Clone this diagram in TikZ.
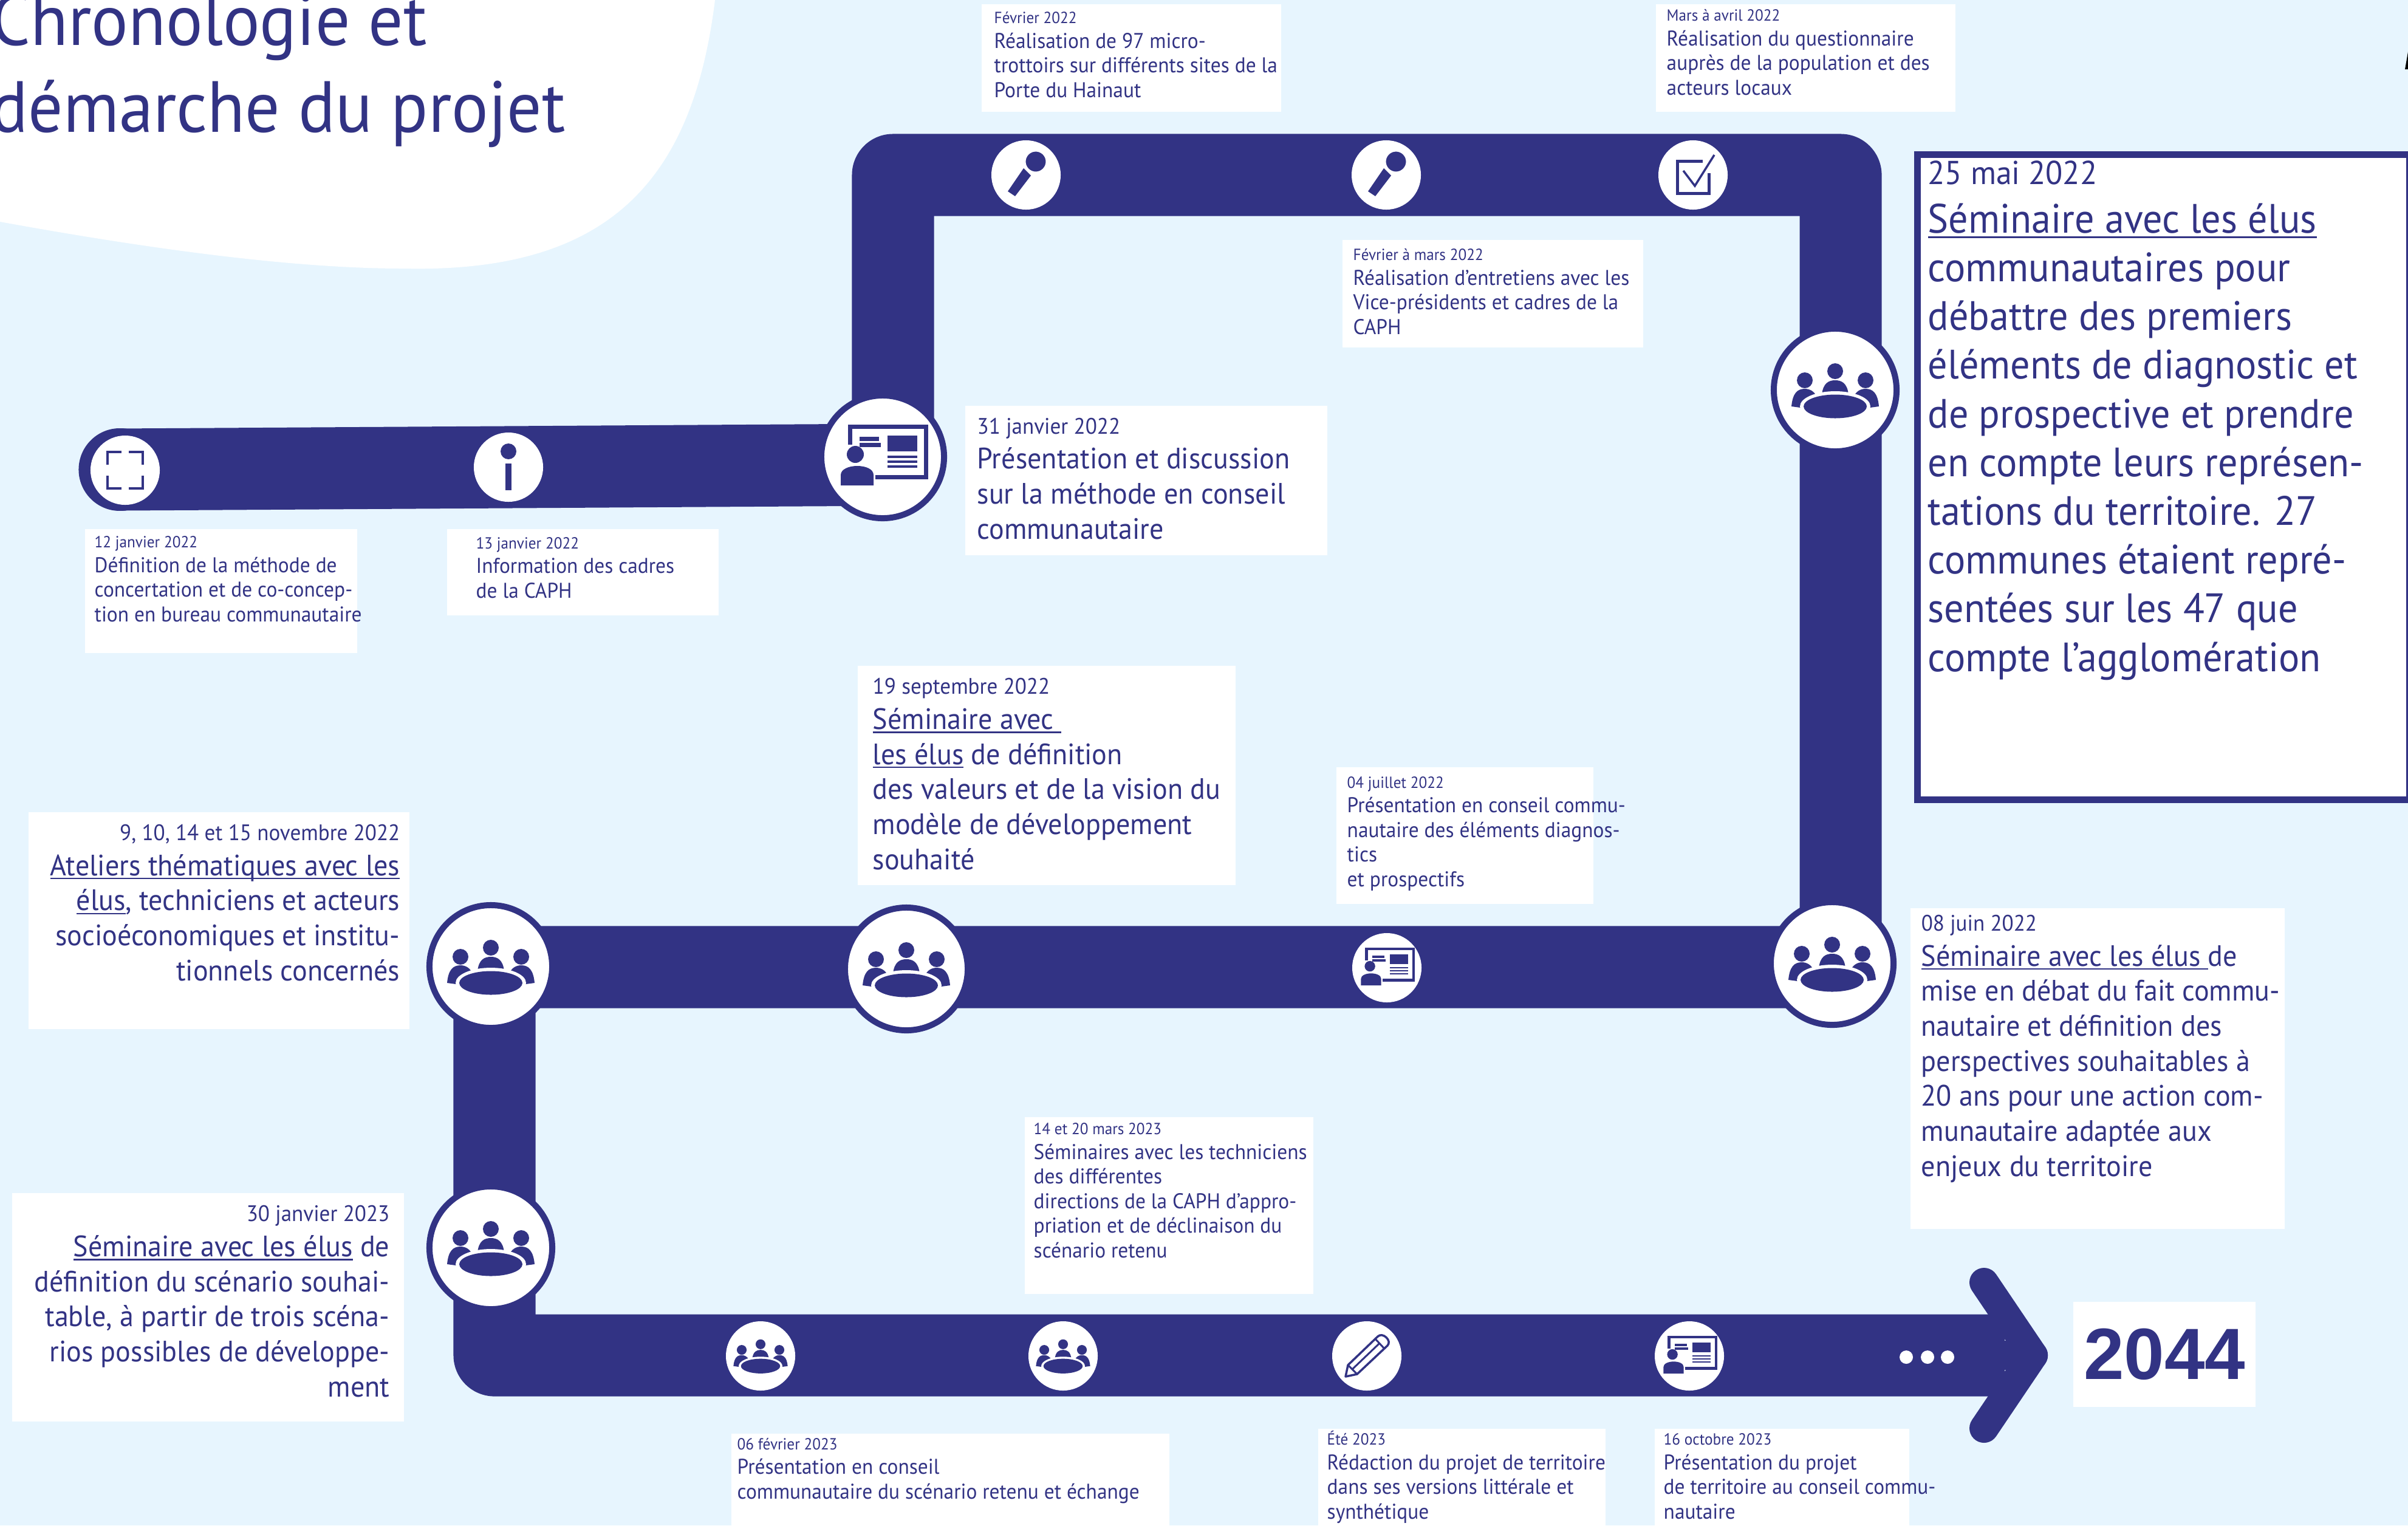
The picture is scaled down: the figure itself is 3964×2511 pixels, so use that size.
\documentclass[tikz,border=0pt]{standalone}
\usepackage{fontspec}
\setmainfont[FakeStretch=0.95]{PT Sans}
\newfontfamily\yearfont{Liberation Sans}
\usetikzlibrary{backgrounds}
\definecolor{navy}{HTML}{323384}
\definecolor{paleblue}{HTML}{E7F5FE}
\newcommand{\souligne}[1]{\setbox0\hbox{#1}\rlap{\rule[-.13em]{\wd0}{.05em}}\box0\relax}
\newcommand{\smalldate}[1]{{\fontsize{7.55}{11.5}\selectfont #1}}
\newcommand{\meddate}[1]{{\fontsize{10.5}{16.4}\selectfont #1}}
\newcommand{\largedate}[1]{{\fontsize{15.5}{22.8}\selectfont #1}}
\tikzset{
  band/.style={navy,line width=1.35cm,line join=round},
  headline/.style={navy,line width=.48cm,line cap=round,line join=round},
  spot/.style={circle,fill=white,minimum size=1.14cm,inner sep=0pt},
  hub/.style={circle,fill=white,draw=navy,line width=.1cm,minimum size=2.02cm,inner sep=0pt},
  whitebox/.style={rectangle,fill=white,inner sep=0pt,anchor=north west},
  smalltxt/.style={text=navy,inner sep=0pt,anchor=base west,align=left,font=\fontsize{10}{11.5}\selectfont},
  medtxt/.style={text=navy,inner sep=0pt,anchor=base west,align=left,font=\fontsize{13.8}{16.4}\selectfont},
  largetxt/.style={text=navy,inner sep=0pt,anchor=base west,align=left,font=\fontsize{19.2}{22.8}\selectfont},
  titletxt/.style={text=navy,inner sep=0pt,anchor=base west,align=left,font=\fontsize{33.9}{40.6}\selectfont},
  groupicon/.pic={
    \fill[navy] (0,-31) circle [radius=13];
    \fill[navy] (-50,-16) circle [radius=13];
    \fill[navy] (50,-16) circle [radius=13];
    \fill[navy] (-22,8) .. controls (-20,-12) and (-10,-16) .. (0,-16) .. controls (10,-16) and (20,-12) .. (22,8) -- cycle;
    \fill[navy] (-72,27) .. controls (-70,5) and (-62,-2) .. (-50,-2) .. controls (-42,-2) and (-34,2) .. (-30,12) -- (-50,30) -- cycle;
    \fill[navy] (72,27) .. controls (70,5) and (62,-2) .. (50,-2) .. controls (42,-2) and (34,2) .. (30,12) -- (50,30) -- cycle;
    \fill[white] (0,27) ellipse [x radius=58,y radius=25];
    \fill[navy] (0,27) ellipse [x radius=52,y radius=19.5];
  },
  presicon/.pic={
    \draw[navy] (-54,-20) -- (-54,-50) -- (71,-50) -- (71,33) -- (-12,33);
    \fill[navy] (8,-35) rectangle (57,-9);
    \fill[navy] (8,-2) rectangle (57,2);
    \fill[navy] (8,6) rectangle (57,10);
    \fill[navy] (8,14) rectangle (57,18);
    \fill[navy] (-38,-33) rectangle (-6,-26);
    \fill[navy] (-38,-23) rectangle (-3,-16);
    \fill[navy] (-45,-4) circle [radius=14];
    \fill[navy] (-69,47) -- (-69,30) .. controls (-69,20) and (-55,15) .. (-42,15) .. controls (-28,15) and (-15,20) .. (-15,30) -- (-15,47) -- cycle;
  },
  micicon/.pic={
    \fill[navy] (-4,-11) -- (8,1) -- (-18,35) -- (-30,27) -- cycle;
    \fill[navy,draw=white,line width=.03cm] (16,-22) circle [radius=18];
  },
  checkicon/.pic={
    \draw[navy,line width=.05cm] (16,-23) -- (-26,-23) -- (-26,30) -- (26,30) -- (26,-3);
    \draw[white,line width=.09cm] (-16,-7) -- (3,18) -- (35,-33);
    \draw[navy,line width=.035cm] (-16,-7) -- (3,18) -- (35,-33);
  },
  frameicon/.pic={
    \draw[navy,line width=.035cm] (-29,-9) -- (-29,-30) -- (-6,-30);
    \draw[navy,line width=.035cm] (6,-30) -- (29,-30) -- (29,-9);
    \draw[navy,line width=.035cm] (-29,9) -- (-29,30) -- (-6,30);
    \draw[navy,line width=.035cm] (6,30) -- (29,30) -- (29,9);
  },
  infoicon/.pic={
    \fill[navy] (0,-26) circle [radius=13];
    \fill[navy] (-5,-6) rectangle (5,38);
  },
  pencilicon/.pic={
    \draw[navy,line width=.035cm,line join=round] (-35,34) -- (-31,15) -- (18,-32) .. controls (26,-40) and (42,-25) .. (34,-17) -- (-16,30) -- cycle;
    \draw[navy,line width=.03cm] (-31,15) -- (-16,30);
    \draw[navy,line width=.03cm] (-24,22) -- (20,-20);
    \draw[navy,line width=.03cm] (14,-28) -- (28,-13);
  }
}
\begin{document}
\begin{tikzpicture}[x=.01cm,y=-.01cm]
  \useasboundingbox (0,0) rectangle (3964,2511);
  \coordinate (bandstart) at (197,773);
  \coordinate (cornerA) at (1470,765);
  \coordinate (cornerB) at (1470,288);
  \coordinate (cornerC) at (3030,288);
  \coordinate (cornerD) at (3030,1592);
  \coordinate (cornerE) at (814,1592);
  \coordinate (cornerF) at (814,2231);
  \coordinate (bandend) at (3300,2231);
  \coordinate (headtop) at (3266,2111);
  \coordinate (headtip) at (3347,2231);
  \coordinate (headbottom) at (3266,2351);
  \node[spot] (frame) at (206,774) {};
  \node[spot] (info) at (837,769) {};
  \node[hub] (methode) at (1453,752) {};
  \node[spot] (micA) at (1689,288) {};
  \node[spot] (micB) at (2282,288) {};
  \node[spot] (enquete) at (2787,288) {};
  \node[hub] (mai) at (3021,642) {};
  \node[hub] (juin) at (3016,1586) {};
  \node[spot] (juillet) at (2283,1593) {};
  \node[hub] (septembre) at (1492,1595) {};
  \node[hub] (novembre) at (808,1591) {};
  \node[hub] (janvier) at (808,2054) {};
  \node[spot] (fevrier) at (1252,2232) {};
  \node[spot] (mars) at (1750,2232) {};
  \node[spot] (ete) at (2250,2232) {};
  \node[spot] (octobre) at (2781,2232) {};
  \pic at (frame) {frameicon};
  \pic at (info) {infoicon};
  \pic[line width=.07cm] at (methode) {presicon};
  \pic at (micA) {micicon};
  \pic at (micB) {micicon};
  \pic at (enquete) {checkicon};
  \pic at (mai) {groupicon};
  \pic at (juin) {groupicon};
  \pic[scale=.62,line width=.045cm] at (juillet) {presicon};
  \pic at (septembre) {groupicon};
  \pic at (novembre) {groupicon};
  \pic at (janvier) {groupicon};
  \pic[scale=.62] at (fevrier) {groupicon};
  \pic[scale=.62] at (mars) {groupicon};
  \pic at (ete) {pencilicon};
  \pic[scale=.62,line width=.045cm] at (octobre) {presicon};
  \node[circle,fill=white,minimum size=.22cm,inner sep=0pt] (dotA) at (3138,2234) {};
  \node[circle,fill=white,minimum size=.22cm,inner sep=0pt] (dotB) at (3173,2234) {};
  \node[circle,fill=white,minimum size=.22cm,inner sep=0pt] (dotC) at (3206,2234) {};
  \begin{scope}[on background layer]
    \fill[paleblue] (0,0) rectangle (3964,2511);
    \fill[white] (0,365) .. controls (220,405) and (470,442) .. (663,442) .. controls (1000,450) and (1140,300) .. (1177,0) -- (0,0) -- cycle;
    \draw[band] (bandstart) -- (cornerA) -- (cornerB) -- (cornerC) -- (cornerD) -- (cornerE) -- (cornerF) -- (bandend);
    \draw[band,line cap=round] (bandstart) -- ++(1,0);
    \draw[headline] (headtop) -- (headtip) -- (headbottom);
    \draw[headline] (bandend) -- (headtip);
  \end{scope}
  \node[titletxt] (titre) at (-15,217) {Chronologie et\\démarche du projet};
  \fill[black] (3959,114) -- (3964,114) -- (3964,85) -- cycle;
  \node[whitebox,minimum width=4.48cm,minimum height=2.04cm] (boxA) at (139,870) {};
  \node[smalltxt] (txtA) at (155,1023) {\smalldate{12 janvier 2022}\\Définition de la méthode de\\concertation et de co-concep-\\tion en bureau communautaire};
  \node[whitebox,minimum width=4.47cm,minimum height=1.42cm] (boxB) at (735,870) {};
  \node[smalltxt] (txtB) at (783,984) {\smalldate{13 janvier 2022}\\Information des cadres\\de la CAPH};
  \node[whitebox,minimum width=5.96cm,minimum height=2.46cm] (boxC) at (1588,667) {};
  \node[medtxt] (txtC) at (1608,887) {\meddate{31 janvier 2022}\\Présentation et discussion\\sur la méthode en conseil\\communautaire};
  \node[whitebox,minimum width=4.93cm,minimum height=1.77cm] (boxD) at (1615,6) {};
  \node[smalltxt] (txtD) at (1636,160) {\smalldate{Février 2022}\\Réalisation de 97 micro-\\trottoirs sur différents sites de la\\Porte du Hainaut};
  \node[whitebox,minimum width=4.93cm,minimum height=1.77cm] (boxE) at (2725,6) {};
  \node[smalltxt] (txtE) at (2743,156) {\smalldate{Mars à avril 2022}\\Réalisation du questionnaire\\auprès de la population et des\\acteurs locaux};
  \node[whitebox,minimum width=4.95cm,minimum height=1.77cm] (boxF) at (2209,394) {};
  \node[smalltxt] (txtF) at (2227,550) {\smalldate{Février à mars 2022}\\Réalisation d’entretiens avec les\\Vice-présidents et cadres de la\\CAPH};
  \node[whitebox,draw=navy,line width=.11cm,minimum width=8.095cm,minimum height=10.61cm] (boxG) at (3151,249) {};
  \node[largetxt] (txtG) at (3173,1105) {\largedate{25 mai 2022}\\\souligne{Séminaire avec les élus}\\communautaires pour\\débattre des premiers\\éléments de diagnostic et\\de prospective et prendre\\en compte leurs représen-\\tations du territoire. 27\\communes étaient repré-\\sentées sur les 47 que\\compte l’agglomération};
  \node[whitebox,minimum width=6.16cm,minimum height=5.28cm] (boxH) at (3144,1494) {};
  \node[medtxt] (txtH) at (3162,1936) {\meddate{08 juin 2022}\\\souligne{Séminaire avec les élus\ }de\\mise en débat du fait commu-\\nautaire et définition des\\perspectives souhaitables à\\20 ans pour une action com-\\munautaire adaptée aux\\enjeux du territoire};
  \node[whitebox,minimum width=6.22cm,minimum height=3.61cm] (boxI) at (1411,1095) {};
  \node[medtxt] (txtI) at (1436,1431) {\meddate{19 septembre 2022}\\\souligne{Séminaire avec\ }\\\souligne{les élus} de définition\\des valeurs et de la vision du\\modèle de développement\\souhaité};
  \node[whitebox,minimum width=4.23cm,minimum height=2.25cm] (boxJ) at (2199,1262) {};
  \node[smalltxt] (txtJ) at (2217,1459) {\smalldate{04 juillet 2022}\\Présentation en conseil commu-\\nautaire des éléments diagnos-\\tics\\et prospectifs};
  \node[whitebox,minimum width=6.27cm,minimum height=3.57cm] (boxK) at (46,1336) {};
  \node[medtxt,anchor=base east,align=right] (txtK) at (659,1614) {\meddate{9, 10, 14 et 15 novembre 2022}\\\souligne{Ateliers thématiques avec les}\\\souligne{élus}, techniciens et acteurs\\socioéconomiques et institu-\\tionnels concernés};
  \node[whitebox,minimum width=6.45cm,minimum height=3.76cm] (boxL) at (19,1963) {};
  \node[medtxt,anchor=base east,align=right] (txtL) at (642,2299) {\meddate{30 janvier 2023}\\\souligne{Séminaire avec les élus} de\\définition du scénario souhai-\\table, à partir de trois scéna-\\rios possibles de développe-\\ment};
  \node[whitebox,minimum width=4.75cm,minimum height=2.91cm] (boxM) at (1686,1838) {};
  \node[smalltxt] (txtM) at (1701,2070) {\smalldate{14 et 20 mars 2023}\\Séminaires avec les techniciens\\des différentes\\directions de la CAPH d’appro-\\priation et de déclinaison du\\scénario retenu};
  \node[whitebox,minimum width=7.21cm,minimum height=1.52cm] (boxN) at (1203,2359) {};
  \node[smalltxt] (txtN) at (1213,2467) {\smalldate{06 février 2023}\\Présentation en conseil\\communautaire du scénario retenu et échange};
  \node[whitebox,minimum width=4.73cm,minimum height=1.6cm] (boxO) at (2169,2351) {};
  \node[smalltxt] (txtO) at (2184,2500) {\smalldate{Été 2023}\\Rédaction du projet de territoire\\dans ses versions littérale et\\synthétique};
  \node[whitebox,minimum width=4.19cm,minimum height=1.6cm] (boxP) at (2723,2351) {};
  \node[smalltxt] (txtP) at (2738,2500) {\smalldate{16 octobre 2023}\\Présentation du projet\\de territoire au conseil commu-\\nautaire};
  \node[rectangle,fill=white,minimum width=3cm,minimum height=1.73cm,inner sep=0pt,text=navy,font=\yearfont\bfseries\fontsize{34}{40}\selectfont] (annee) at (3563,2229.5) {2044};
\end{tikzpicture}
\end{document}
